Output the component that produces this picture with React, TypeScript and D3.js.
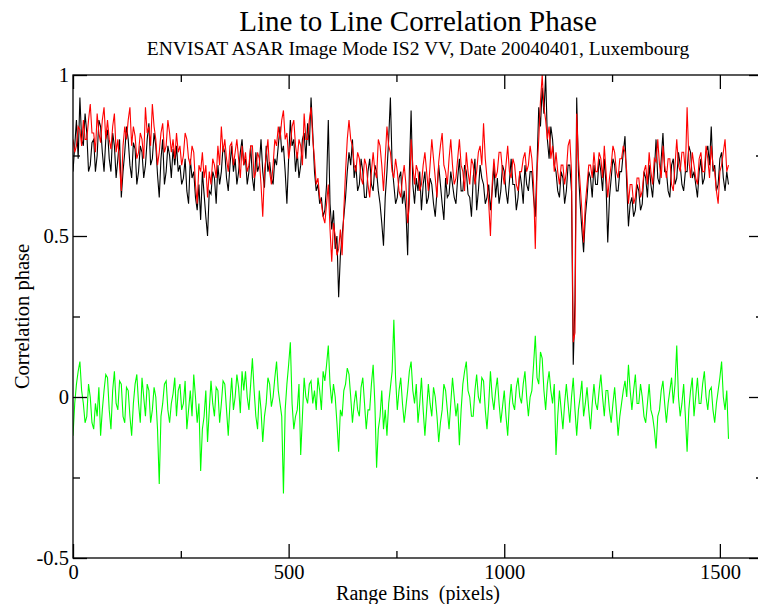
import { useEffect, useRef } from 'react';
import * as d3 from 'd3';

// range bin spacing of the sampled profiles
const BIN_STEP = 4;

// line to line correlation phase, black = first pass, red = second pass
const blackPhase = [
  0.70, 0.78, 0.86, 0.74, 0.93, 0.80, 0.78, 0.88, 0.82, 0.70, 0.72, 0.79, 0.80, 0.70, 0.75, 0.86, 0.84, 0.76, 0.70, 0.80,
  0.83, 0.74, 0.70, 0.82, 0.78, 0.68, 0.74, 0.80, 0.62, 0.70, 0.76, 0.84, 0.80, 0.72, 0.68, 0.79, 0.77, 0.66, 0.70, 0.78,
  0.76, 0.68, 0.72, 0.80, 0.85, 0.72, 0.74, 0.82, 0.78, 0.69, 0.62, 0.74, 0.80, 0.66, 0.70, 0.78, 0.75, 0.68, 0.77, 0.72,
  0.78, 0.70, 0.72, 0.66, 0.68, 0.74, 0.64, 0.60, 0.74, 0.68, 0.70, 0.62, 0.58, 0.66, 0.55, 0.70, 0.63, 0.56, 0.50, 0.64,
  0.63, 0.70, 0.68, 0.60, 0.72, 0.66, 0.70, 0.78, 0.76, 0.68, 0.64, 0.72, 0.78, 0.70, 0.74, 0.66, 0.70, 0.76, 0.80, 0.72,
  0.74, 0.66, 0.70, 0.78, 0.68, 0.64, 0.76, 0.70, 0.72, 0.80, 0.70, 0.65, 0.78, 0.70, 0.73, 0.68, 0.66, 0.74, 0.72, 0.78,
  0.84, 0.76, 0.78, 0.70, 0.60, 0.74, 0.86, 0.78, 0.80, 0.70, 0.76, 0.68, 0.72, 0.80, 0.82, 0.74, 0.85, 0.78, 0.93, 0.82,
  0.70, 0.64, 0.66, 0.60, 0.62, 0.56, 0.58, 0.66, 0.86, 0.60, 0.52, 0.58, 0.46, 0.50, 0.31, 0.44, 0.50, 0.56, 0.62, 0.70,
  0.76, 0.72, 0.80, 0.68, 0.72, 0.64, 0.66, 0.74, 0.70, 0.62, 0.62, 0.70, 0.74, 0.66, 0.64, 0.72, 0.70, 0.64, 0.60, 0.54,
  0.47, 0.62, 0.70, 0.80, 0.93, 0.72, 0.66, 0.60, 0.62, 0.68, 0.70, 0.60, 0.64, 0.58, 0.44, 0.70, 0.89, 0.66, 0.60, 0.68,
  0.64, 0.70, 0.58, 0.66, 0.70, 0.60, 0.62, 0.68, 0.66, 0.60, 0.56, 0.64, 0.72, 0.66, 0.60, 0.55, 0.68, 0.62, 0.63, 0.70,
  0.66, 0.62, 0.60, 0.68, 0.74, 0.64, 0.64, 0.72, 0.70, 0.63, 0.62, 0.56, 0.68, 0.74, 0.58, 0.64, 0.72, 0.68, 0.66, 0.60,
  0.62, 0.66, 0.58, 0.64, 0.72, 0.62, 0.68, 0.60, 0.64, 0.72, 0.70, 0.64, 0.60, 0.67, 0.74, 0.66, 0.66, 0.58, 0.62, 0.70,
  0.66, 0.60, 0.72, 0.66, 0.64, 0.70, 0.70, 0.62, 0.56, 0.72, 0.90, 0.84, 0.96, 0.88, 1.00, 0.80, 0.74, 0.84, 0.80, 0.72,
  0.70, 0.64, 0.62, 0.70, 0.68, 0.60, 0.64, 0.72, 0.72, 0.64, 0.10, 0.30, 0.93, 0.70, 0.60, 0.52, 0.45, 0.56, 0.62, 0.70,
  0.68, 0.62, 0.72, 0.66, 0.66, 0.74, 0.70, 0.64, 0.74, 0.66, 0.48, 0.62, 0.68, 0.74, 0.72, 0.64, 0.64, 0.70, 0.70, 0.76,
  0.81, 0.66, 0.53, 0.60, 0.62, 0.56, 0.58, 0.66, 0.64, 0.58, 0.60, 0.70, 0.68, 0.62, 0.72, 0.66, 0.62, 0.70, 0.80, 0.68,
  0.66, 0.74, 0.82, 0.70, 0.70, 0.64, 0.62, 0.72, 0.74, 0.66, 0.68, 0.76, 0.72, 0.66, 0.64, 0.70, 0.70, 0.78, 0.76, 0.68,
  0.70, 0.66, 0.62, 0.70, 0.74, 0.66, 0.68, 0.76, 0.78, 0.72, 0.84, 0.70, 0.72, 0.64, 0.66, 0.74, 0.76, 0.68, 0.64, 0.70,
  0.66,
];

const redPhase = [
  0.80, 0.76, 0.78, 0.84, 0.83, 0.78, 0.86, 0.80, 0.80, 0.86, 0.91, 0.82, 0.82, 0.76, 0.88, 0.82, 0.79, 0.86, 0.90, 0.80,
  0.86, 0.80, 0.77, 0.84, 0.88, 0.76, 0.80, 0.72, 0.64, 0.78, 0.84, 0.80, 0.86, 0.90, 0.78, 0.84, 0.81, 0.74, 0.76, 0.82,
  0.80, 0.74, 0.90, 0.82, 0.84, 0.78, 0.91, 0.84, 0.80, 0.72, 0.76, 0.82, 0.85, 0.76, 0.78, 0.86, 0.82, 0.76, 0.80, 0.74,
  0.82, 0.76, 0.78, 0.72, 0.75, 0.82, 0.80, 0.74, 0.72, 0.78, 0.76, 0.66, 0.60, 0.72, 0.70, 0.76, 0.68, 0.72, 0.62, 0.70,
  0.66, 0.74, 0.72, 0.68, 0.78, 0.72, 0.84, 0.76, 0.80, 0.74, 0.70, 0.78, 0.79, 0.72, 0.76, 0.80, 0.74, 0.68, 0.78, 0.72,
  0.76, 0.70, 0.72, 0.78, 0.78, 0.68, 0.70, 0.76, 0.74, 0.66, 0.56, 0.70, 0.75, 0.80, 0.70, 0.66, 0.72, 0.80, 0.78, 0.84,
  0.80, 0.86, 0.89, 0.80, 0.82, 0.74, 0.78, 0.84, 0.86, 0.78, 0.74, 0.80, 0.78, 0.72, 0.88, 0.80, 0.80, 0.86, 0.90, 0.80,
  0.74, 0.66, 0.68, 0.62, 0.60, 0.56, 0.54, 0.60, 0.66, 0.52, 0.42, 0.54, 0.50, 0.44, 0.46, 0.52, 0.44, 0.58, 0.70, 0.80,
  0.86, 0.80, 0.78, 0.72, 0.70, 0.76, 0.74, 0.68, 0.66, 0.74, 0.72, 0.66, 0.62, 0.70, 0.76, 0.70, 0.68, 0.80, 0.78, 0.72,
  0.64, 0.74, 0.84, 0.78, 0.76, 0.70, 0.68, 0.74, 0.70, 0.64, 0.62, 0.68, 0.72, 0.66, 0.54, 0.60, 0.80, 0.72, 0.66, 0.72,
  0.70, 0.64, 0.66, 0.72, 0.76, 0.70, 0.64, 0.72, 0.80, 0.74, 0.68, 0.62, 0.73, 0.78, 0.82, 0.72, 0.70, 0.66, 0.74, 0.80,
  0.72, 0.66, 0.68, 0.74, 0.80, 0.72, 0.70, 0.64, 0.76, 0.70, 0.66, 0.74, 0.72, 0.66, 0.70, 0.76, 0.78, 0.72, 0.85, 0.74,
  0.68, 0.60, 0.50, 0.66, 0.74, 0.68, 0.70, 0.76, 0.76, 0.70, 0.66, 0.72, 0.78, 0.70, 0.68, 0.74, 0.72, 0.66, 0.64, 0.70,
  0.70, 0.74, 0.76, 0.70, 0.72, 0.78, 0.74, 0.66, 0.46, 0.70, 0.80, 0.92, 1.00, 0.90, 0.86, 0.80, 0.84, 0.74, 0.78, 0.70,
  0.76, 0.70, 0.66, 0.72, 0.72, 0.66, 0.70, 0.78, 0.80, 0.70, 0.17, 0.20, 0.88, 0.74, 0.66, 0.58, 0.48, 0.60, 0.66, 0.72,
  0.72, 0.68, 0.76, 0.70, 0.70, 0.76, 0.74, 0.68, 0.78, 0.70, 0.62, 0.68, 0.72, 0.78, 0.76, 0.70, 0.68, 0.74, 0.74, 0.78,
  0.76, 0.70, 0.60, 0.66, 0.66, 0.60, 0.62, 0.68, 0.68, 0.62, 0.64, 0.70, 0.72, 0.66, 0.76, 0.70, 0.66, 0.74, 0.73, 0.80,
  0.72, 0.68, 0.78, 0.72, 0.68, 0.74, 0.74, 0.66, 0.64, 0.72, 0.80, 0.72, 0.70, 0.76, 0.76, 0.70, 0.90, 0.74, 0.68, 0.76,
  0.72, 0.68, 0.66, 0.74, 0.76, 0.70, 0.70, 0.78, 0.74, 0.68, 0.78, 0.72, 0.70, 0.64, 0.60, 0.70, 0.72, 0.76, 0.80, 0.70,
  0.72,
];

// difference of the two passes
const greenPhase = [
  -0.12, -0.02, 0.04, 0.08, 0.11, 0.02, -0.02, -0.08, -0.06, 0.04, 0.00, -0.08, -0.10, -0.02, -0.06, 0.03, -0.12, -0.04, 0.02, 0.07,
  0.06, -0.04, -0.10, 0.02, 0.08, -0.02, -0.04, 0.05, 0.04, -0.06, -0.08, 0.03, 0.02, -0.06, -0.12, -0.02, 0.04, 0.07, -0.02, -0.08,
  0.06, 0.00, -0.06, 0.04, 0.02, -0.08, -0.04, 0.03, 0.00, -0.10, -0.27, -0.06, -0.02, 0.04, 0.05, -0.04, -0.08, -0.02, 0.01, 0.06,
  -0.06, 0.02, 0.04, -0.04, -0.02, 0.05, -0.10, -0.04, 0.02, -0.06, 0.07, 0.00, -0.08, -0.02, -0.23, -0.10, -0.06, 0.02, -0.14, -0.04,
  0.05, -0.02, -0.06, 0.03, 0.02, -0.08, -0.02, 0.05, 0.04, -0.04, -0.12, -0.02, 0.06, -0.04, 0.00, 0.07, 0.03, -0.05, 0.08, 0.02,
  0.08, 0.00, -0.04, 0.04, 0.12, 0.02, -0.06, -0.10, 0.02, -0.04, -0.14, -0.06, -0.02, 0.06, 0.04, -0.03, 0.00, 0.06, 0.11, 0.02,
  -0.02, -0.06, -0.30, -0.04, 0.04, 0.10, 0.17, -0.02, -0.10, -0.06, -0.04, 0.04, -0.18, -0.06, 0.06, 0.00, -0.02, 0.04, 0.05, -0.02,
  0.02, -0.04, 0.06, 0.02, -0.04, 0.08, 0.05, 0.10, 0.16, 0.04, -0.02, 0.04, 0.00, -0.08, -0.17, -0.04, -0.06, 0.02, 0.04, 0.09,
  0.07, 0.00, -0.08, -0.02, 0.02, -0.04, -0.06, 0.03, 0.06, -0.02, -0.10, -0.04, -0.04, 0.04, 0.10, -0.02, -0.22, -0.10, -0.06, 0.02,
  -0.10, -0.04, -0.12, -0.02, 0.03, 0.08, 0.24, 0.06, -0.04, 0.02, 0.06, -0.02, -0.08, -0.03, 0.02, 0.08, 0.11, 0.02, -0.02, 0.04,
  -0.08, -0.02, 0.06, -0.04, -0.12, -0.04, 0.04, -0.02, -0.06, 0.03, 0.00, -0.06, -0.14, -0.08, -0.04, 0.04, 0.02, -0.04, -0.10, -0.02,
  0.06, 0.00, -0.06, -0.02, -0.15, -0.04, 0.04, 0.08, 0.11, 0.02, 0.00, -0.06, -0.06, 0.02, 0.07, 0.00, -0.02, 0.06, 0.05, -0.04,
  -0.10, -0.02, 0.08, 0.00, -0.04, 0.02, 0.06, -0.02, -0.08, -0.03, 0.02, -0.06, -0.12, -0.02, 0.04, -0.02, -0.04, 0.03, 0.06, 0.00,
  -0.02, 0.04, 0.08, 0.00, -0.06, 0.00, 0.02, 0.10, 0.19, 0.06, 0.04, 0.14, 0.12, 0.02, -0.04, 0.04, 0.08, 0.02, -0.02, 0.04,
  -0.18, -0.06, 0.02, -0.04, -0.10, -0.02, 0.04, -0.02, -0.08, 0.00, 0.06, -0.04, -0.12, -0.04, 0.00, 0.05, -0.06, -0.02, 0.03, -0.04,
  -0.10, -0.02, 0.04, -0.02, -0.04, 0.02, 0.07, 0.00, -0.06, 0.02, 0.02, -0.04, -0.08, -0.02, 0.03, -0.04, -0.12, -0.06, -0.02, 0.02,
  0.05, 0.00, 0.10, 0.02, -0.04, 0.02, 0.07, -0.02, -0.02, 0.04, 0.00, -0.06, -0.08, -0.02, 0.04, -0.04, -0.06, -0.10, -0.16, -0.06,
  -0.04, 0.02, 0.05, -0.02, -0.08, -0.02, 0.02, 0.06, -0.02, 0.04, 0.16, 0.00, -0.06, -0.02, 0.04, -0.06, -0.17, -0.04, 0.02, 0.06,
  -0.06, 0.00, 0.06, -0.02, -0.02, 0.04, 0.08, 0.00, -0.04, 0.02, 0.03, -0.04, -0.08, -0.02, 0.02, 0.06, 0.11, 0.00, -0.04, 0.02,
  -0.13,
];

const xMajorTicks = [0, 500, 1000, 1500];
const xMinorTicks = [250, 750, 1250];
const yMajorTicks = [1, 0.5, 0, -0.5];
const yMinorTicks = [0.75, 0.25, -0.25];

const seriesList = [
  { name: 'black', values: blackPhase, color: '#000000' },
  { name: 'red', values: redPhase, color: '#ff0000' },
  { name: 'green', values: greenPhase, color: '#00ff00' },
];

const FONT = '"Liberation Serif", "DejaVu Serif", serif';

export default function App() {
  const svgRef = useRef<SVGSVGElement>(null);
  const width = 758;
  const height = 604;

  useEffect(() => {
    if (!svgRef.current) return;
    document.body.style.margin = '0';

    const svg = d3.select(svgRef.current);
    svg.selectAll('*').remove();

    const margin = { top: 75, right: -5, bottom: 46, left: 73 };
    const innerWidth = width - margin.left - margin.right;
    const innerHeight = height - margin.top - margin.bottom;

    const x = d3.scaleLinear().domain([0, 1600]).range([0, innerWidth]);
    const y = d3.scaleLinear().domain([-0.5, 1]).range([innerHeight, 0]);

    svg.append('rect').attr('width', width).attr('height', height).attr('fill', '#fff');

    const g = svg.append('g').attr('transform', `translate(${margin.left}, ${margin.top})`);

    const clip = svg.append('defs').append('clipPath').attr('id', 'plotClip');
    clip.append('rect').attr('width', innerWidth).attr('height', innerHeight + 1).attr('y', -1);

    // Lines
    const line = d3.line<number>()
      .x((_, i) => x(i * BIN_STEP))
      .y(d => y(d));

    const lines = g.append('g').attr('clip-path', 'url(#plotClip)');
    seriesList.forEach(s => {
      lines.append('path')
        .datum(s.values)
        .attr('fill', 'none')
        .attr('stroke', s.color)
        .attr('stroke-width', 1.1)
        .attr('d', line);
    });

    // Frame
    g.append('rect')
      .attr('width', innerWidth)
      .attr('height', innerHeight)
      .attr('fill', 'none')
      .attr('stroke', '#000')
      .attr('stroke-width', 1.3);

    const styleAxis = (sel: d3.Selection<SVGGElement, unknown, null, undefined>) => {
      sel.select('.domain').remove();
      sel.selectAll('.tick line').attr('stroke', '#000').attr('stroke-width', 1.3);
      sel.selectAll('.tick text')
        .attr('fill', '#000')
        .style('font-family', FONT)
        .style('font-size', '20.5px');
    };

    // Bottom axis
    g.append('g')
      .attr('transform', `translate(0, ${innerHeight})`)
      .call(d3.axisBottom(x).tickValues(xMajorTicks).tickSizeInner(-14).tickSizeOuter(0).tickPadding(6).tickFormat(d3.format('d')))
      .call(styleAxis);
    g.append('g')
      .attr('transform', `translate(0, ${innerHeight})`)
      .call(d3.axisBottom(x).tickValues(xMinorTicks).tickSizeInner(-7).tickSizeOuter(0).tickFormat(() => ''))
      .call(styleAxis);

    // Top axis
    g.append('g')
      .call(d3.axisTop(x).tickValues(xMajorTicks).tickSizeInner(-14).tickSizeOuter(0).tickFormat(() => ''))
      .call(styleAxis);
    g.append('g')
      .call(d3.axisTop(x).tickValues(xMinorTicks).tickSizeInner(-7).tickSizeOuter(0).tickFormat(() => ''))
      .call(styleAxis);

    // Left axis
    g.append('g')
      .call(d3.axisLeft(y).tickValues(yMajorTicks).tickSizeInner(-14).tickSizeOuter(0).tickPadding(4).tickFormat(d => String(d)))
      .call(styleAxis);
    g.append('g')
      .call(d3.axisLeft(y).tickValues(yMinorTicks).tickSizeInner(-7).tickSizeOuter(0).tickFormat(() => ''))
      .call(styleAxis);

    // Right axis
    g.append('g')
      .attr('transform', `translate(${innerWidth}, 0)`)
      .call(d3.axisRight(y).tickValues(yMajorTicks).tickSizeInner(-14).tickSizeOuter(0).tickFormat(() => ''))
      .call(styleAxis);
    g.append('g')
      .attr('transform', `translate(${innerWidth}, 0)`)
      .call(d3.axisRight(y).tickValues(yMinorTicks).tickSizeInner(-7).tickSizeOuter(0).tickFormat(() => ''))
      .call(styleAxis);

    // Titles
    const cx = margin.left + innerWidth / 2;
    svg.append('text')
      .attr('x', cx)
      .attr('y', 31)
      .attr('text-anchor', 'middle')
      .style('font-family', FONT)
      .style('font-size', '29px')
      .text('Line to Line Correlation Phase');

    svg.append('text')
      .attr('x', cx)
      .attr('y', 55)
      .attr('text-anchor', 'middle')
      .style('font-family', FONT)
      .style('font-size', '19.5px')
      .text('ENVISAT ASAR Image Mode IS2 VV, Date 20040401, Luxembourg');

    svg.append('text')
      .attr('x', cx)
      .attr('y', 600)
      .attr('text-anchor', 'middle')
      .style('font-family', FONT)
      .style('font-size', '20px')
      .style('white-space', 'pre')
      .text('Range Bins  (pixels)');

    svg.append('text')
      .attr('transform', `translate(29, ${margin.top + innerHeight / 2}) rotate(-90)`)
      .attr('text-anchor', 'middle')
      .style('font-family', FONT)
      .style('font-size', '20.5px')
      .text('Correlation phase');
  }, []);

  return (
    <div style={{ width, height, overflow: 'hidden' }}>
      <svg ref={svgRef} width={width} height={height} style={{ display: 'block' }}></svg>
    </div>
  );
}
